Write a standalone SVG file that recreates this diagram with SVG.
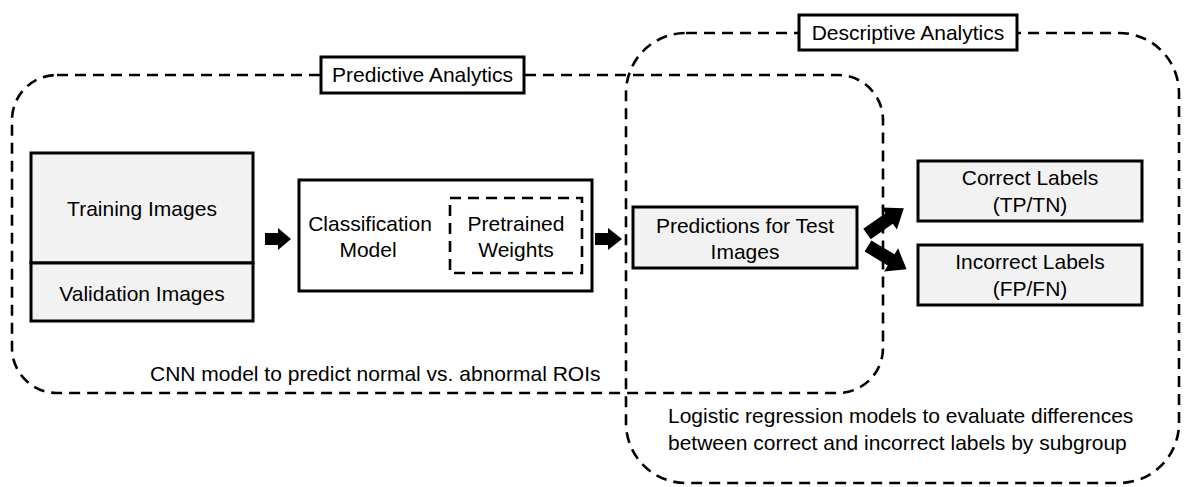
<svg xmlns="http://www.w3.org/2000/svg" width="1184" height="487" viewBox="0 0 1184 487">
  <style>
    .region { fill: none; stroke: #000; stroke-width: 2.6; stroke-dasharray: 11 7; }
    .box { fill: #f2f2f2; stroke: #000; stroke-width: 3; }
    .plain { fill: #fff; stroke: #000; stroke-width: 3; }
    .inner { fill: none; stroke: #000; stroke-width: 2.6; stroke-dasharray: 11 7; }
    .tag { fill: #fff; stroke: #000; stroke-width: 3; }
    .arrow { fill: #000; stroke: none; }
    text { font-family: "Liberation Sans", Arial, sans-serif; font-size: 21px; fill: #000; }
    .c { text-anchor: middle; }
  </style>
  <defs>
    <path id="fat-arrow" d="M0,-6.5 L27,-6.5 L27,-13.5 L45,0 L27,13.5 L27,6.5 L0,6.5 Z"/>
  </defs>

  <rect width="1184" height="487" fill="#fff"/>

  <!-- analytics regions -->
  <g id="predictive-region">
    <rect class="region" x="12" y="75" width="871" height="318" rx="45" ry="45"/>
    <text x="150" y="381">CNN model to predict normal vs. abnormal ROIs</text>
  </g>
  <g id="descriptive-region">
    <rect class="region" x="626" y="33" width="553" height="450" rx="60" ry="60"/>
    <text x="668" y="423">Logistic regression models to evaluate differences</text>
    <text x="668" y="450">between correct and incorrect labels by subgroup</text>
  </g>
  <g id="predictive-tag">
    <rect class="tag" x="321" y="57" width="203" height="36"/>
    <text class="c" x="422.5" y="82">Predictive Analytics</text>
  </g>
  <g id="descriptive-tag">
    <rect class="tag" x="799" y="15" width="218" height="35"/>
    <text class="c" x="908" y="40">Descriptive Analytics</text>
  </g>

  <!-- data split -->
  <g id="training-images">
    <rect class="box" x="31" y="153" width="222" height="110"/>
    <text class="c" x="142" y="216">Training Images</text>
  </g>
  <g id="validation-images">
    <rect class="box" x="31" y="263" width="222" height="58"/>
    <text class="c" x="142" y="301">Validation Images</text>
  </g>

  <!-- model -->
  <g id="classification-model">
    <rect class="plain" x="299" y="180" width="293" height="111"/>
    <text class="c" x="370" y="231">Classification</text>
    <text class="c" x="368" y="257">Model</text>
  </g>
  <g id="pretrained-weights">
    <rect class="inner" x="450" y="198" width="132" height="75"/>
    <text class="c" x="516" y="231">Pretrained</text>
    <text class="c" x="516" y="257">Weights</text>
  </g>

  <!-- outputs -->
  <g id="predictions">
    <rect class="box" x="633" y="207" width="224" height="61"/>
    <text class="c" x="745" y="233">Predictions for Test</text>
    <text class="c" x="745" y="259">Images</text>
  </g>
  <g id="correct-labels">
    <rect class="box" x="918" y="161" width="224" height="60"/>
    <text class="c" x="1030" y="185">Correct Labels</text>
    <text class="c" x="1030" y="212">(TP/TN)</text>
  </g>
  <g id="incorrect-labels">
    <rect class="box" x="918" y="245" width="224" height="60"/>
    <text class="c" x="1030" y="269">Incorrect Labels</text>
    <text class="c" x="1030" y="296">(FP/FN)</text>
  </g>

  <!-- block arrows -->
  <g id="connectors">
    <path class="arrow" d="M265,233 L278,233 L278,228 L291,239 L278,250 L278,245 L265,245 Z"/>
    <path class="arrow" d="M595,233 L608,233 L608,228 L622,239 L608,250 L608,245 L595,245 Z"/>
    <use class="arrow" href="#fat-arrow" transform="translate(867,234) rotate(-35)"/>
    <use class="arrow" href="#fat-arrow" transform="translate(868,246) rotate(31)"/>
  </g>
</svg>
